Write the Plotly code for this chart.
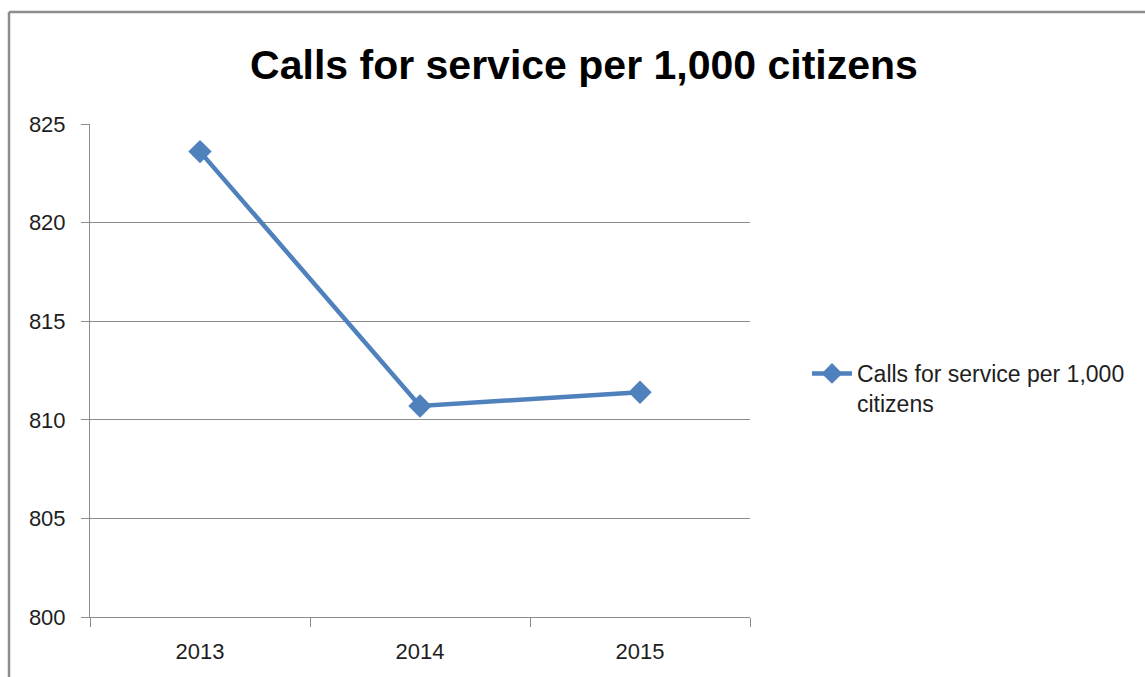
import plotly.graph_objects as go

years = ["2013", "2014", "2015"]
calls_per_1000 = [823.6, 810.7, 811.4]
series_name = "Calls for service per 1,000<br>citizens"
chart_title = "Calls for service per 1,000 citizens"
y_ticks = [800, 805, 810, 815, 820, 825]

W, H = 1145, 677
L, R, T, B = 90, 395, 124, 60
pw, ph = W - L - R, H - T - B

def px_to_paper_x(px):
    return (px - L) / pw

def px_to_paper_y(py):
    return (H - B - py) / ph

line_color = "#4F81BD"
font_family = "Liberation Sans, Arial, sans-serif"
text_color = "#1E1E1E"

fig = go.Figure()
fig.add_trace(go.Scatter(
    x=years,
    y=calls_per_1000,
    mode="lines+markers",
    name=series_name,
    line=dict(color=line_color, width=4.5),
    marker=dict(symbol="diamond", size=18, color=line_color),
))

frame_color = "#8C8C8C"
fig.add_shape(type="line", xref="paper", yref="paper",
              x0=px_to_paper_x(9), x1=px_to_paper_x(1150),
              y0=px_to_paper_y(12), y1=px_to_paper_y(12),
              line=dict(color=frame_color, width=2.5))
fig.add_shape(type="line", xref="paper", yref="paper",
              x0=px_to_paper_x(9), x1=px_to_paper_x(9),
              y0=px_to_paper_y(12), y1=px_to_paper_y(690),
              line=dict(color=frame_color, width=2.5))

fig.update_layout(
    width=W, height=H,
    margin=dict(l=L, r=R, t=T, b=B),
    paper_bgcolor="white", plot_bgcolor="white",
    font=dict(family=font_family, color=text_color, size=22),
    title=dict(text="<b>" + chart_title + "</b>",
               x=px_to_paper_x(584), xref="paper", xanchor="center",
               y=1 - 65 / H, yanchor="middle",
               font=dict(size=41, color="#000000", family=font_family)),
    showlegend=True,
    legend=dict(x=px_to_paper_x(807), y=px_to_paper_y(352),
                xanchor="left", yanchor="top", valign="top",
                font=dict(size=23, color=text_color),
                bgcolor="rgba(0,0,0,0)", itemwidth=40),
    xaxis=dict(type="category", range=[-0.5, 2.5], showgrid=False,
               showline=True, linecolor="#8C8C8C", linewidth=1,
               ticks="outside", tickson="boundaries", ticklen=9,
               tickcolor="#8C8C8C", tickfont=dict(size=22, color=text_color),
               ticklabelstandoff=15,
               fixedrange=True),
    yaxis=dict(range=[800, 825], tickvals=y_ticks, showgrid=True,
               gridcolor="#8C8C8C", gridwidth=1,
               showline=True, linecolor="#8C8C8C", linewidth=1,
               ticks="outside", ticklen=8, tickcolor="#8C8C8C",
               ticklabelstandoff=11,
               tickfont=dict(size=22, color=text_color), zeroline=False,
               fixedrange=True),
)

fig.write_html("out.html")
